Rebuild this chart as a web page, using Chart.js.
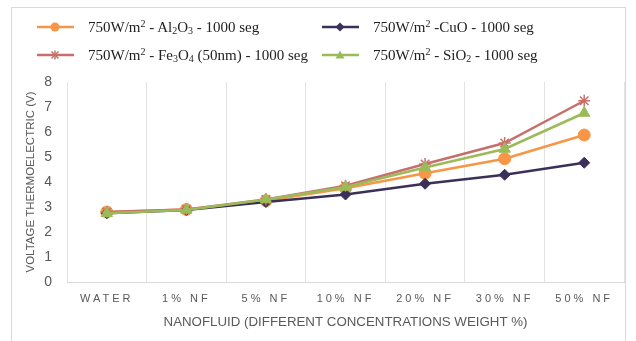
<!DOCTYPE html>
<html>
<head>
<meta charset="utf-8">
<script src="https://cdn.jsdelivr.net/npm/chart.js@4.4.1/dist/chart.umd.min.js"></script>
<style>
  html, body { margin: 0; padding: 0; background: #fff; }
  #wrap { position: relative; width: 636px; height: 341px; overflow: hidden; }
  #frame { position: absolute; left: 11px; top: 7px; width: 615px; height: 360px; border: 1px solid #d9d9d9; box-sizing: border-box; }
  #chart { position: absolute; left: 0; top: 0; }
  .leg { position: absolute; font-family: "Liberation Serif", "Times New Roman", serif; font-size: 15px; color: #222; white-space: nowrap; line-height: 18px; }
  .leg svg { position: absolute; top: 0; left: 0; }
  .leg span { position: absolute; top: 0; }
  sub, sup { font-size: 10px; line-height: 0; }
  sup { vertical-align: 5px; }
  sub { vertical-align: -2px; }
</style>
</head>
<body>
<div id="wrap">
  <div id="frame"></div>
  <canvas id="chart" width="636" height="341"></canvas>
  <div id="legend"></div>
</div>
<script>
// ─── Data ───
const categories = ['WATER', '1% NF', '5% NF', '10% NF', '20% NF', '30% NF', '50% NF'];
const al2o3 = [2.8, 2.9, 3.25, 3.75, 4.35, 4.93, 5.88];
const cuo = [2.75, 2.88, 3.2, 3.5, 3.93, 4.29, 4.77];
const fe3o4 = [2.8, 2.9, 3.3, 3.85, 4.72, 5.56, 7.25];
const sio2 = [2.75, 2.88, 3.3, 3.8, 4.58, 5.32, 6.76];
const yTicks = [0, 1, 2, 3, 4, 5, 6, 7, 8];

const series = [
  { name: '750W/m<sup>2</sup> - Al<sub>2</sub>O<sub>3</sub> - 1000 seg', data: al2o3, color: '#F79646', style: 'circle', r: 6, order: 4, lx: 37, ly: 18 },
  { name: '750W/m<sup>2</sup> -CuO - 1000 seg', data: cuo, color: '#3B3058', style: 'rectRot', r: 5.5, order: 3, lx: 322, ly: 18 },
  { name: '750W/m<sup>2</sup> - Fe<sub>3</sub>O<sub>4</sub> (50nm) - 1000 seg', data: fe3o4, color: '#C6706C', style: 'star', r: 6, order: 2, lx: 37, ly: 46 },
  { name: '750W/m<sup>2</sup> - SiO<sub>2</sub> - 1000 seg', data: sio2, color: '#9BBB59', style: 'triangle', r: 6.5, order: 1, lx: 322, ly: 46 },
];

// ─── HTML legend (sub/superscripts) ───
const legendEl = document.getElementById('legend');
function marker(s) {
  const c = s.color;
  if (s.style === 'circle') return `<circle cx="18" cy="9" r="4.5" fill="${c}"/>`;
  if (s.style === 'rectRot') return `<polygon points="18,4.5 22.5,9 18,13.5 13.5,9" fill="${c}"/>`;
  if (s.style === 'triangle') return `<polygon points="18,4.5 22.5,12.5 13.5,12.5" fill="${c}"/>`;
  return `<g stroke="${c}" stroke-width="1.5"><line x1="14.5" y1="5.5" x2="21.5" y2="12.5"/><line x1="21.5" y1="5.5" x2="14.5" y2="12.5"/><line x1="18" y1="4.5" x2="18" y2="13.5"/></g>`;
}
series.forEach(s => {
  const d = document.createElement('div');
  d.className = 'leg';
  d.style.left = s.lx + 'px';
  d.style.top = s.ly + 'px';
  d.innerHTML = `<svg width="40" height="18"><line x1="0" y1="9" x2="37" y2="9" stroke="${s.color}" stroke-width="2.5"/>${marker(s)}</svg><span style="left:51px">${s.name}</span>`;
  legendEl.appendChild(d);
});

// letter-spaced category labels, like the original
const spacedTicks = {
  id: 'spacedTicks',
  afterLayout(chart) {
    const sc = chart.scales.x;
    if (sc._patched) return;
    const orig = sc.drawLabels;
    sc.drawLabels = function (area) {
      const ctx = this.ctx;
      ctx.save();
      ctx.letterSpacing = '3px';
      orig.call(this, area);
      ctx.restore();
    };
    sc._patched = true;
  },
};

new Chart(document.getElementById('chart'), {
  type: 'line',
  data: {
    labels: categories,
    datasets: series.map(s => ({
      label: s.name,
      data: s.data,
      borderColor: s.color,
      backgroundColor: s.color,
      pointStyle: s.style,
      pointRadius: s.r,
      pointBorderWidth: s.style === 'star' ? 1.5 : 1,
      borderWidth: 2.5,
      order: s.order,
      tension: 0,
    })),
  },
  options: {
    responsive: false,
    animation: false,
    layout: { padding: { left: 20, right: 12, top: 82, bottom: 7 } },
    plugins: { legend: { display: false }, tooltip: { enabled: false } },
    scales: {
      x: {
        offset: true,
        grid: { offset: true, color: '#e3e3e3', drawTicks: false },
        border: { color: '#d9d9d9' },
        ticks: { color: '#595959', padding: 10, maxRotation: 0, font: { family: 'Liberation Sans', size: 11 } },
        title: { display: true, text: 'NANOFLUID (DIFFERENT CONCENTRATIONS WEIGHT %)', color: '#595959', padding: { top: 4, bottom: 4 }, font: { family: 'Liberation Sans', size: 13.3 } },
        afterFit: s => { s.height = 52; },
      },
      y: {
        min: 0,
        max: 8,
        afterBuildTicks: s => { s.ticks = yTicks.map(v => ({ value: v })); },
        grid: { display: false, drawTicks: false },
        border: { display: false },
        ticks: { color: '#595959', padding: 15, font: { family: 'Liberation Sans', size: 14 } },
        title: { display: true, text: 'VOLTAGE THERMOELECTRIC (V)', color: '#595959', padding: { top: 4, bottom: 4 }, font: { family: 'Liberation Sans', size: 11.5 } },
        afterFit: s => { s.width = 47; },
      },
    },
  },
  plugins: [spacedTicks],
});
</script>
</body>
</html>
